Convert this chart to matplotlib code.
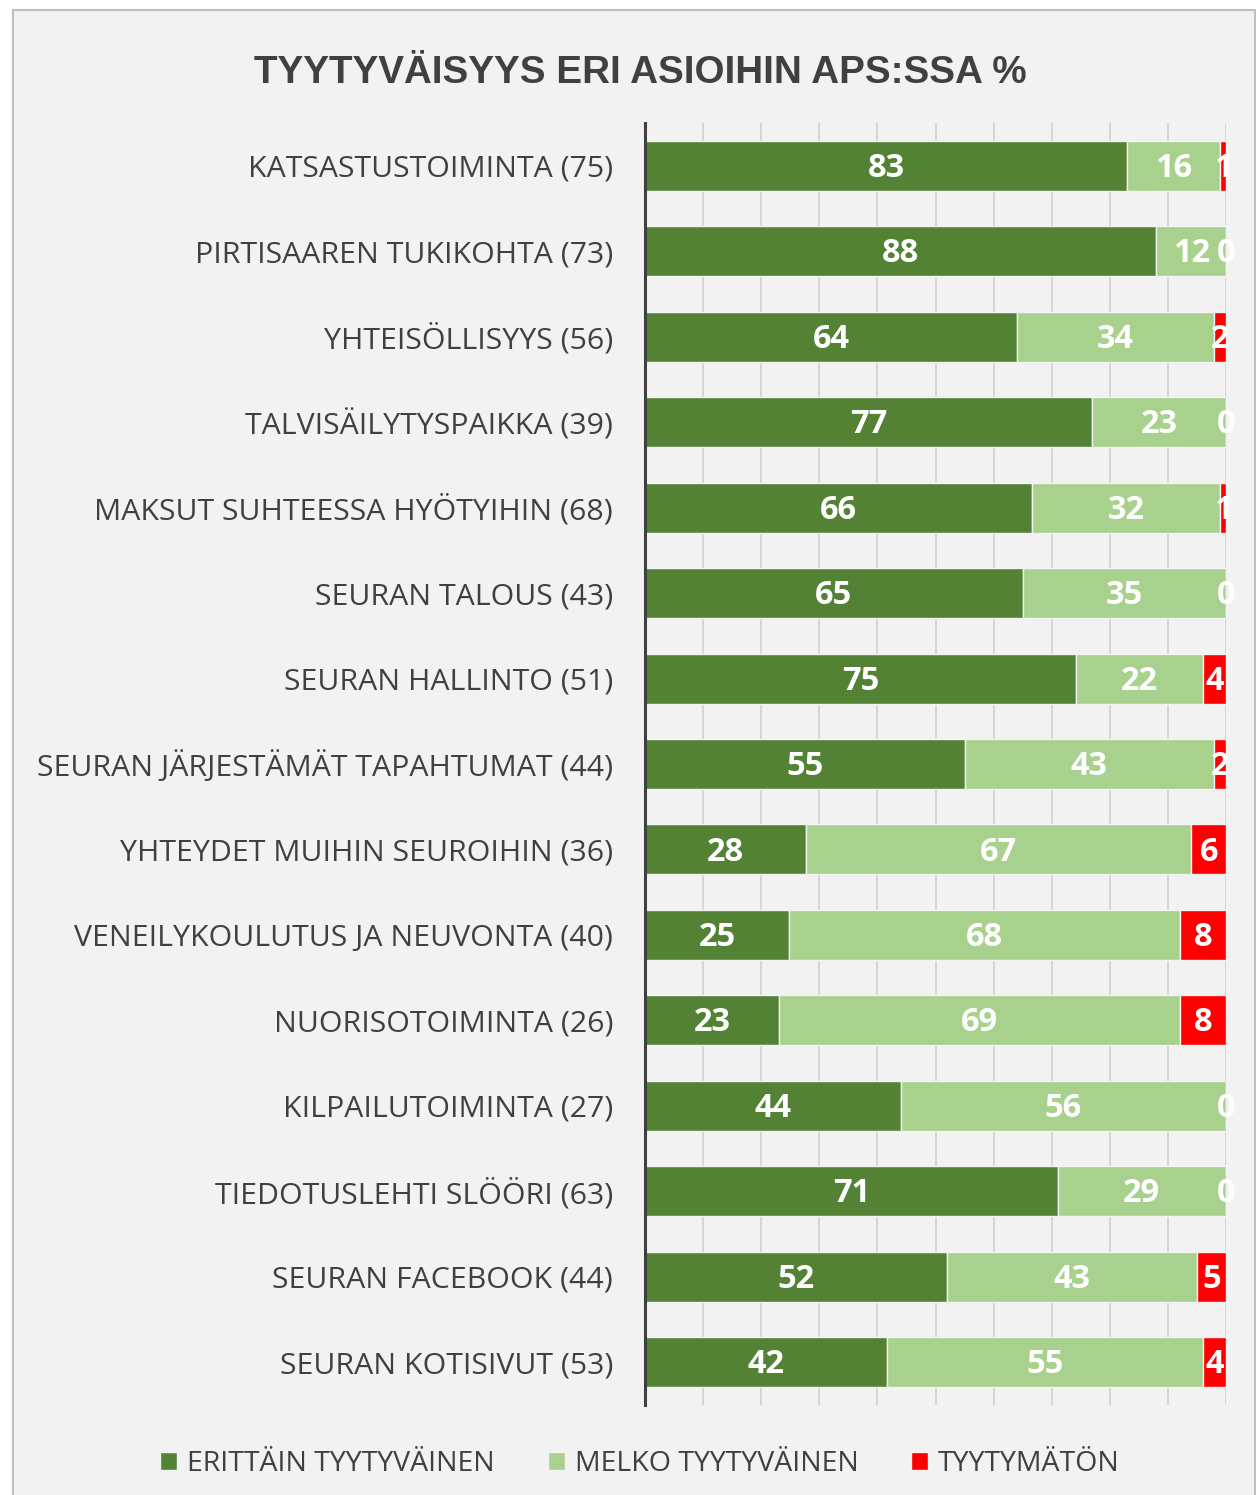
import numpy as np
import matplotlib.pyplot as plt
from matplotlib.patches import Rectangle

# Data
categories = [
    'KATSASTUSTOIMINTA (75)',
    'PIRTISAAREN TUKIKOHTA (73)',
    'YHTEISÖLLISYYS (56)',
    'TALVISÄILYTYSPAIKKA (39)',
    'MAKSUT SUHTEESSA HYÖTYIHIN (68)',
    'SEURAN TALOUS (43)',
    'SEURAN HALLINTO (51)',
    'SEURAN JÄRJESTÄMÄT TAPAHTUMAT (44)',
    'YHTEYDET MUIHIN SEUROIHIN (36)',
    'VENEILYKOULUTUS JA NEUVONTA (40)',
    'NUORISOTOIMINTA (26)',
    'KILPAILUTOIMINTA (27)',
    'TIEDOTUSLEHTI SLÖÖRI (63)',
    'SEURAN FACEBOOK (44)',
    'SEURAN KOTISIVUT (53)',
]
erittain = [83, 88, 64, 77, 66, 65, 75, 55, 28, 25, 23, 44, 71, 52, 42]
melko = [16, 12, 34, 23, 32, 35, 22, 43, 67, 68, 69, 56, 29, 43, 55]
tyytymaton = [1, 0, 2, 0, 1, 0, 4, 2, 6, 8, 8, 0, 0, 5, 4]
series_names = ['ERITTÄIN TYYTYVÄINEN', 'MELKO TYYTYVÄINEN', 'TYYTYMÄTÖN']
colors = ['#548235', '#A9D18E', '#FF0000']

title = 'TYYTYVÄISYYS ERI ASIOIHIN APS:SSA %'

plt.rcParams['font.family'] = ['Open Sans', 'DejaVu Sans']

raw = np.array([erittain, melko, tyytymaton], dtype=float)
# 100 % stacked: scale each row to total 100
share = raw / raw.sum(axis=0) * 100

fig = plt.figure(figsize=(12.59, 14.95), dpi=100)
fig.patch.set_facecolor('white')
fig.patches.append(Rectangle((13 / 1259, -0.01), 1242 / 1259, 1 - 10 / 1495 + 0.01,
                             transform=fig.transFigure, facecolor='#F2F2F2',
                             edgecolor='#BFBFBF', linewidth=1.5, zorder=-10))

ax = fig.add_axes([645 / 1259, 1 - 1405 / 1495, 581 / 1259, 1282 / 1495])
ax.patch.set_alpha(0)

y = np.arange(len(categories))
left = np.zeros(len(categories))
for i in range(3):
    ax.barh(y, share[i], left=left, height=0.585, color=colors[i],
            edgecolor='#F2F2F2', linewidth=1, label=series_names[i], zorder=3)
    for j in range(len(categories)):
        ax.text(left[j] + share[i][j] / 2, y[j] + 0.03, f'{int(raw[i][j])}',
                ha='center', va='center', color='white', fontsize=23.5,
                fontweight='bold', zorder=5)
    left += share[i]

ax.set_xlim(0, 100)
ax.set_ylim(len(categories) - 0.5, -0.5)
ax.set_xticks(np.arange(0, 101, 10))
ax.grid(axis='x', color='#D0D0D0', linewidth=1.2, zorder=0)
ax.tick_params(axis='x', length=0, labelbottom=False)
ax.tick_params(axis='y', length=0, pad=23, labelsize=21.8, labelcolor='#404040')
ax.set_yticks(y)
ax.set_yticklabels(categories)
for s in ['top', 'right', 'bottom']:
    ax.spines[s].set_visible(False)
ax.spines['left'].set_color('#404040')
ax.spines['left'].set_linewidth(2.2)
ax.spines['left'].set_zorder(6)

fig.text(640 / 1259, 1 - 73 / 1495, title, ha='center', va='center',
         fontsize=27.8, fontweight='bold', color='#404040',
         family=['Liberation Sans', 'DejaVu Sans'])

fig.legend(loc='center', bbox_to_anchor=(640 / 1259, 1 - 1464 / 1495), ncol=3,
           frameon=False, fontsize=20.5, handlelength=0.6, handleheight=0.6,
           handletextpad=0.35, columnspacing=1.85, labelcolor='#404040')

fig.savefig('out.png', dpi=100, facecolor=fig.get_facecolor())
